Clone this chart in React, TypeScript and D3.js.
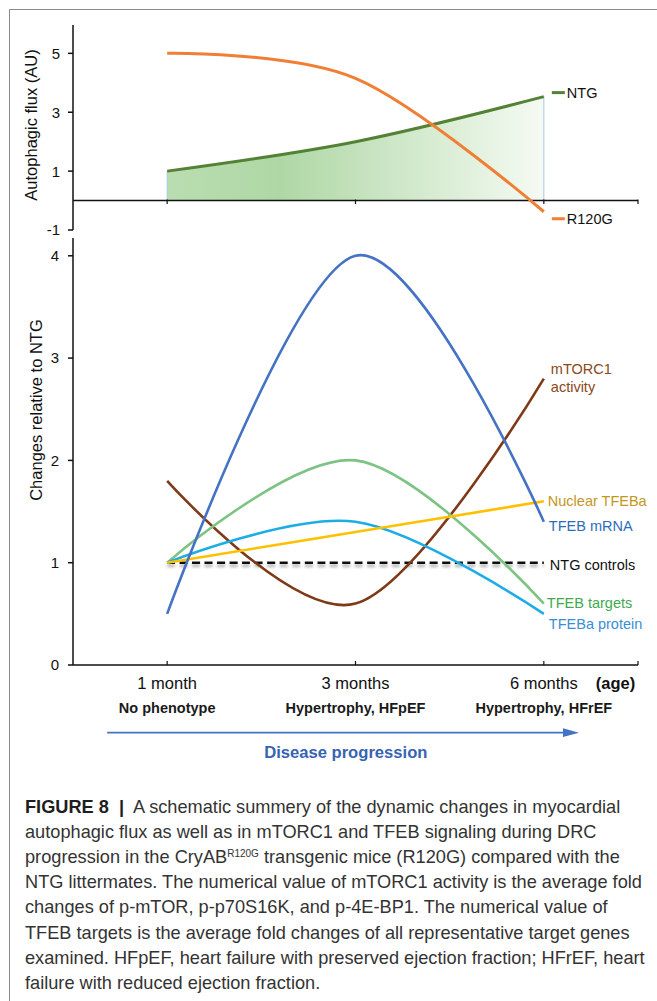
import React from 'react';
import * as d3 from 'd3';

// categories along the x axis
const ages = ['1 month', '3 months', '6 months'];
const phenotypes = ['No phenotype', 'Hypertrophy, HFpEF', 'Hypertrophy, HFrEF'];

// top panel: autophagic flux (AU)
const fluxTicks = [5, 3, 1, -1];
const ntgFlux = [1.0, 2.0, 3.53];
const r120gFlux = [5.0, 4.15, -0.38];

// bottom panel: changes relative to NTG
const changeTicks = [0, 1, 2, 3, 4];
const tfebMrna = [0.5, 4.0, 1.4];
const mtorc1Activity = [1.8, 0.6, 2.8];
const tfebTargets = [1.0, 2.0, 0.6];
const tfebaProtein = [1.0, 1.4, 0.5];
const nuclearTfeba = [1.0, 1.3, 1.6];
const ntgControls = [1, 1, 1];

const captionLines = [
  'A schematic summery of the dynamic changes in myocardial',
  'autophagic flux as well as in mTORC1 and TFEB signaling during DRC',
  'transgenic mice (R120G) compared with the',
  'NTG littermates. The numerical value of mTORC1 activity is the average fold',
  'changes of p-mTOR, p-p70S16K, and p-4E-BP1. The numerical value of',
  'TFEB targets is the average fold changes of all representative target genes',
  'examined. HFpEF, heart failure with preserved ejection fraction; HFrEF, heart',
  'failure with reduced ejection fraction.',
];

const FONT = '"Liberation Sans", Arial, Helvetica, sans-serif';

export default function App() {
  const x = d3.scalePoint<string>().domain(ages).range([73, 638]).padding(0.5);
  const xEnd = 638;
  const xLeft = 73;

  const yTop = d3.scaleLinear().domain([-1, 6]).range([230, 23.9]);
  const yBot = d3.scaleLinear().domain([0, 4.17]).range([665, 238.4]);

  const curve = d3.curveCardinal.tension(0);
  const lineTop = d3.line<number>()
    .x((d, i) => x(ages[i]) as number)
    .y((d) => yTop(d))
    .curve(curve);
  const areaTop = d3.area<number>()
    .x((d, i) => x(ages[i]) as number)
    .y0(yTop(0))
    .y1((d) => yTop(d))
    .curve(curve);
  const lineBot = d3.line<number>()
    .x((d, i) => x(ages[i]) as number)
    .y((d) => yBot(d))
    .curve(curve);

  const lastX = x(ages[2]) as number;
  const firstX = x(ages[0]) as number;

  const series = [
    { key: 'mtorc1', values: mtorc1Activity, color: '#7E3A17' },
    { key: 'targets', values: tfebTargets, color: '#7DC383' },
    { key: 'protein', values: tfebaProtein, color: '#1CACE6' },
    { key: 'nuclear', values: nuclearTfeba, color: '#FFC000' },
    { key: 'mrna', values: tfebMrna, color: '#4472C4' },
  ];

  const labels = [
    { lines: ['mTORC1', 'activity'], at: 2.9, dx: 7, color: '#8A4720' },
    { lines: ['Nuclear TFEBa'], at: 1.61, dx: 4, color: '#C4961C' },
    { lines: ['TFEB mRNA'], at: 1.36, dx: 5, color: '#2E6DBA' },
    { lines: ['NTG controls'], at: 0.98, dx: 6, color: '#111' },
    { lines: ['TFEB targets'], at: 0.61, dx: 3, color: '#3FAA4F' },
    { lines: ['TFEBa protein'], at: 0.4, dx: 5, color: '#3A8DD6' },
  ];

  const topAxisY = yTop(0);
  const botAxisY = yBot(0);

  return (
    <svg
      width={657}
      height={1001}
      style={{ position: 'absolute', left: 0, top: 0, background: '#fff' }}
      fontFamily={FONT}
    >
      <defs>
        <linearGradient id="ntgFill" x1="0" x2="1" y1="0" y2="0">
          <stop offset="0%" stopColor="#B9DDB0" />
          <stop offset="30%" stopColor="#AFD7A5" />
          <stop offset="65%" stopColor="#D2E9CC" />
          <stop offset="100%" stopColor="#F5FAF3" />
        </linearGradient>
        <filter id="shadow" filterUnits="userSpaceOnUse" x={0} y={0} width={657} height={1001}>
          <feDropShadow dx="0" dy="3" stdDeviation="1.6" floodColor="#000" floodOpacity="0.35" />
        </filter>
      </defs>

      {/* page frame */}
      <line x1={9.5} x2={657} y1={9.5} y2={9.5} stroke="#8a8a8a" />
      <line x1={9.5} x2={9.5} y1={9.5} y2={1001} stroke="#8a8a8a" />

      {/* ---------- top panel ---------- */}
      <path d={areaTop(ntgFlux) || ''} fill="url(#ntgFill)" />
      {[0, 2].map((i) => (
        <line
          key={i}
          x1={x(ages[i])}
          x2={x(ages[i])}
          y1={topAxisY}
          y2={yTop(ntgFlux[i])}
          stroke="#A9C8E8"
          strokeWidth={1}
        />
      ))}
      <line x1={xLeft} x2={xLeft} y1={25} y2={yTop(-1)} stroke="#111" strokeWidth={1.5} />
      {fluxTicks.map((t) => (
        <g key={t}>
          <line x1={xLeft - 5} x2={xLeft} y1={yTop(t)} y2={yTop(t)} stroke="#111" strokeWidth={1.5} />
          <text x={xLeft - 13} y={yTop(t)} dy="0.36em" textAnchor="end" fontSize={15} fill="#111">
            {t}
          </text>
        </g>
      ))}
      <line x1={xLeft} x2={xEnd} y1={topAxisY} y2={topAxisY} stroke="#111" strokeWidth={1.5} />
      {[...ages.map((a) => x(a) as number), xEnd].map((tx) => (
        <line key={tx} x1={tx} x2={tx} y1={topAxisY - 1} y2={topAxisY + 3.5} stroke="#111" strokeWidth={1.2} />
      ))}
      <text
        transform={`translate(31,125) rotate(-90)`}
        textAnchor="middle"
        dy="0.35em"
        fontSize={16.5}
        fill="#111"
      >
        Autophagic flux (AU)
      </text>
      <path d={lineTop(ntgFlux) || ''} fill="none" stroke="#548235" strokeWidth={3} />
      <path d={lineTop(r120gFlux) || ''} fill="none" stroke="#F07F35" strokeWidth={3} />
      <line x1={lastX + 8} x2={lastX + 21} y1={yTop(ntgFlux[2]) - 4} y2={yTop(ntgFlux[2]) - 4} stroke="#548235" strokeWidth={3} />
      <text x={lastX + 23} y={yTop(ntgFlux[2]) - 4} dy="0.36em" fontSize={14.5} fill="#111">NTG</text>
      <line x1={lastX + 8} x2={lastX + 21} y1={yTop(r120gFlux[2]) + 7} y2={yTop(r120gFlux[2]) + 7} stroke="#F07F35" strokeWidth={3} />
      <text x={lastX + 23} y={yTop(r120gFlux[2]) + 7} dy="0.36em" fontSize={14.5} fill="#111">R120G</text>

      {/* ---------- bottom panel ---------- */}
      <line x1={xLeft} x2={xLeft} y1={238} y2={botAxisY} stroke="#111" strokeWidth={1.5} />
      {changeTicks.map((t) => (
        <g key={t}>
          <line x1={xLeft - 5} x2={xLeft} y1={yBot(t)} y2={yBot(t)} stroke="#111" strokeWidth={1.5} />
          <text x={xLeft - 14} y={yBot(t)} dy="0.36em" textAnchor="end" fontSize={15} fill="#111">
            {t}
          </text>
        </g>
      ))}
      <line x1={xLeft} x2={xEnd} y1={botAxisY} y2={botAxisY} stroke="#111" strokeWidth={1.5} />
      {[...ages.map((a) => x(a) as number), xEnd].map((tx) => (
        <line key={tx} x1={tx} x2={tx} y1={botAxisY - 4} y2={botAxisY} stroke="#111" strokeWidth={1.2} />
      ))}
      <text
        transform={`translate(36,410) rotate(-90)`}
        textAnchor="middle"
        dy="0.35em"
        fontSize={16.5}
        fill="#111"
      >
        Changes relative to NTG
      </text>

      <path
        d={lineBot(ntgControls) || ''}
        fill="none"
        stroke="#111"
        strokeWidth={2.5}
        strokeDasharray="8 4.5"
        filter="url(#shadow)"
      />
      {series.map((s) => (
        <path key={s.key} d={lineBot(s.values) || ''} fill="none" stroke={s.color} strokeWidth={2.6} />
      ))}
      {labels.map((l) => (
        <text key={l.lines[0]} x={lastX + l.dx} y={yBot(l.at)} fontSize={14.5} fill={l.color}>
          {l.lines.map((ln, i) => (
            <tspan key={ln} x={lastX + l.dx} dy={i === 0 ? '0.36em' : '1.28em'}>{ln}</tspan>
          ))}
        </text>
      ))}

      {/* x category labels */}
      {ages.map((a) => (
        <text key={a} x={x(a)} y={688.5} textAnchor="middle" fontSize={16.5} fill="#111">{a}</text>
      ))}
      <text x={615.5} y={688.5} textAnchor="middle" fontSize={16.5} fontWeight="bold" fill="#111">(age)</text>
      {phenotypes.map((p, i) => (
        <text key={p} x={x(ages[i])} y={712.8} textAnchor="middle" fontSize={14.5} fontWeight="bold" fill="#1a1a1a">{p}</text>
      ))}

      {/* disease progression arrow */}
      <line x1={firstX - 60} x2={568} y1={732.7} y2={732.7} stroke="#4472C4" strokeWidth={1.7} />
      <polygon points="579,732.7 563,728.3 563,737.1" fill="#4472C4" />
      <text x={345.8} y={757.5} textAnchor="middle" fontSize={16.6} fontWeight="bold" fill="#3763B3">
        Disease progression
      </text>

      {/* caption */}
      <g fontSize={18.2} fill="#333">
        {captionLines.map((ln, i) => {
          const y = 812.6 + i * 25.2;
          if (i === 0) {
            return (
              <text key={i} y={y}>
                <tspan x={25} fontWeight="bold" fill="#1e1e1e">FIGURE 8</tspan>
                <tspan x={119} fontWeight="bold" fill="#1e1e1e">|</tspan>
                <tspan x={133}>{ln}</tspan>
              </text>
            );
          }
          if (i === 2) {
            return (
              <text key={i} x={25} y={y}>
                progression in the CryAB
                <tspan fontSize={10} dy={-6.5}>R120G</tspan>
                <tspan dy={6.5}>{' ' + ln}</tspan>
              </text>
            );
          }
          return <text key={i} x={25} y={y}>{ln}</text>;
        })}
      </g>
    </svg>
  );
}
